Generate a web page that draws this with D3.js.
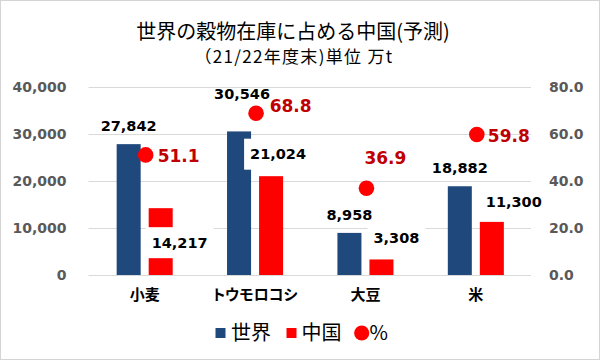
<!DOCTYPE html>
<html><head><meta charset="utf-8">
<script src="https://cdn.jsdelivr.net/npm/d3@7"></script>
<style>
html,body{margin:0;padding:0;background:#fff;}
svg{display:block;}
</style>
</head><body>
<svg id="c" width="600" height="360"></svg>
<script>
// ---- data ----
const categories = ["小麦", "トウモロコシ", "大豆", "米"];
const seriesNames = ["世界", "中国"];
const worldValues = [27842, 30546, 8958, 18882];
const chinaValues = [14217, 21024, 3308, 11300];
const percentValues = [51.1, 68.8, 36.9, 59.8];
const leftTicks = [0, 10000, 20000, 30000, 40000];
const rightTicks = [0, 20, 40, 60, 80];
const titleLines = ["世界の穀物在庫に占める中国(予測)", "（21/22年度末)単位 万t"];
const legendLabels = ["世界", "中国", "%"];

// label nudges (layout only)
const worldNudge = [[0,0],[3,-20],[0,0],[0,0]];
const chinaNudge = [[19,52.5],[7,-4],[15,-3.5],[22,-2]];
const pctNudge = [[12,1],[13.6,-7],[-2,-30],[11,1]];

const BLUE = "#1f497d", RED = "#ff0000", DRED = "#c00000", GRAY = "#595959";
const numFont = "'DejaVu Sans', sans-serif";
const jpFont = "'Noto Sans CJK JP', sans-serif";

const svg = d3.select("#c");
svg.append("rect").attr("x",0.5).attr("y",0.5).attr("width",599).attr("height",359)
  .attr("fill","#fff").attr("stroke","#d4d4d4");

const L = 89.5, R = 531, T = 87, B = 275;
const x0 = d3.scaleBand().domain(categories).range([L, R]).paddingInner(0.4923).paddingOuter(0.246);
const x1 = d3.scaleBand().domain(seriesNames).range([0, x0.bandwidth()]).paddingInner(0.25);
const y = d3.scaleLinear().domain([0, 40000]).range([B, T]);
const y2 = d3.scaleLinear().domain([0, 80]).range([B, T]);

// grid
const grid = svg.append("g").attr("transform", `translate(${L-1},0)`)
  .call(d3.axisLeft(y).tickValues(leftTicks).tickSize(-(R-L+1)).tickFormat(""));
grid.select(".domain").remove();
grid.selectAll("line").attr("stroke","#d9d9d9").attr("stroke-width",1);

// left axis
const ax = svg.append("g").attr("transform", `translate(${L-1},0)`)
  .call(d3.axisLeft(y).tickValues(leftTicks).tickSize(0).tickPadding(22).tickFormat(d3.format(",")));
ax.select(".domain").remove();
ax.selectAll("text").attr("font-family", numFont).attr("font-weight","bold").attr("font-size",14).attr("fill",GRAY);

// right axis
const ax2 = svg.append("g").attr("transform", `translate(${R},0)`)
  .call(d3.axisRight(y2).tickValues(rightTicks).tickSize(0).tickPadding(18).tickFormat(d3.format(".1f")));
ax2.select(".domain").remove();
ax2.selectAll("text").attr("font-family", numFont).attr("font-weight","bold").attr("font-size",14).attr("fill",GRAY);

const rows = categories.map((c,i)=>({c, i, world: worldValues[i], china: chinaValues[i], pct: percentValues[i]}));

// bars
const gb = svg.append("g");
gb.selectAll("rect.w").data(rows).join("rect").attr("class","w")
  .attr("x", d=>x0(d.c)+x1("世界")).attr("width", x1.bandwidth())
  .attr("y", d=>y(d.world)).attr("height", d=>B-y(d.world)).attr("fill", BLUE);
gb.selectAll("rect.ch").data(rows).join("rect").attr("class","ch")
  .attr("x", d=>x0(d.c)+x1("中国")).attr("width", x1.bandwidth())
  .attr("y", d=>y(d.china)).attr("height", d=>B-y(d.china)).attr("fill", RED);

// value labels
const fmt = d3.format(",");
function valueLabel(sel, key, nudge, boxed){
  sel.each(function(d){
    const g = d3.select(this);
    const cx = x0(d.c) + x1(key) + x1.bandwidth()/2 + nudge[d.i][0];
    const cy = y(key==="世界"?d.world:d.china) - 18 + nudge[d.i][1];
    const t = g.append("text").attr("x",cx).attr("y",cy).attr("dy","0.36em")
      .attr("text-anchor","middle").attr("font-family",numFont).attr("font-weight","bold")
      .attr("font-size",14.5).attr("fill","#000").text(fmt(key==="世界"?d.world:d.china));
    if (boxed){
      const bb = t.node().getBBox();
      g.insert("rect","text").attr("x",bb.x-6).attr("y",cy-15.5).attr("width",bb.width+12).attr("height",31).attr("fill","#fff");
    }
  });
}
valueLabel(svg.append("g").selectAll("g").data(rows).join("g"), "世界", worldNudge, false);
valueLabel(svg.append("g").selectAll("g").data(rows).join("g"), "中国", chinaNudge, true);

// percent dots
const gp = svg.append("g");
gp.selectAll("circle").data(rows).join("circle")
  .attr("cx", d=>x0(d.c)+x0.bandwidth()/2+1).attr("cy", d=>y2(d.pct)).attr("r",7.8).attr("fill",RED);
gp.selectAll("text").data(rows).join("text")
  .attr("x", d=>x0(d.c)+x0.bandwidth()/2+1+pctNudge[d.i][0]).attr("y", d=>y2(d.pct)+pctNudge[d.i][1])
  .attr("dy","0.36em").attr("font-family",numFont).attr("font-weight","bold").attr("font-size",17)
  .attr("fill",DRED).text(d=>d3.format(".1f")(d.pct));

// category labels
svg.append("g").selectAll("text").data(categories).join("text")
  .attr("x", d=>x0(d)+x0.bandwidth()/2).attr("y",295).attr("dy","0.36em").attr("text-anchor","middle")
  .attr("font-family",jpFont).attr("font-weight","bold").attr("font-size",15)
  .style("font-feature-settings","'palt'").attr("fill","#000").text(d=>d);

// title
svg.append("text").attr("x",293).attr("y",32).attr("dy","0.36em").attr("text-anchor","middle")
  .attr("font-family",jpFont).attr("font-size",20).attr("fill","#000").text(titleLines[0]);
svg.append("text").attr("x",294).attr("y",57).attr("dy","0.36em").attr("text-anchor","middle")
  .attr("font-family",jpFont).attr("font-size",17).attr("letter-spacing",1.3).attr("fill","#000").text(titleLines[1]);

// legend
const lg = svg.append("g");
const ly = 333;
lg.append("rect").attr("x",215.5).attr("y",ly-5).attr("width",10).attr("height",10).attr("fill",BLUE);
lg.append("text").attr("x",231).attr("y",ly).attr("dy","0.36em").attr("font-family",jpFont).attr("font-size",20).attr("fill","#000").text(legendLabels[0]);
lg.append("rect").attr("x",286.5).attr("y",ly-5).attr("width",10).attr("height",10).attr("fill",RED);
lg.append("text").attr("x",301.5).attr("y",ly).attr("dy","0.36em").attr("font-family",jpFont).attr("font-size",20).attr("fill","#000").text(legendLabels[1]);
lg.append("circle").attr("cx",361.7).attr("cy",ly).attr("r",7.6).attr("fill",RED);
lg.append("text").attr("x",369.5).attr("y",ly).attr("dy","0.36em").attr("font-family",jpFont).attr("font-size",20).attr("fill","#000").text(legendLabels[2]);
</script>
</body></html>
